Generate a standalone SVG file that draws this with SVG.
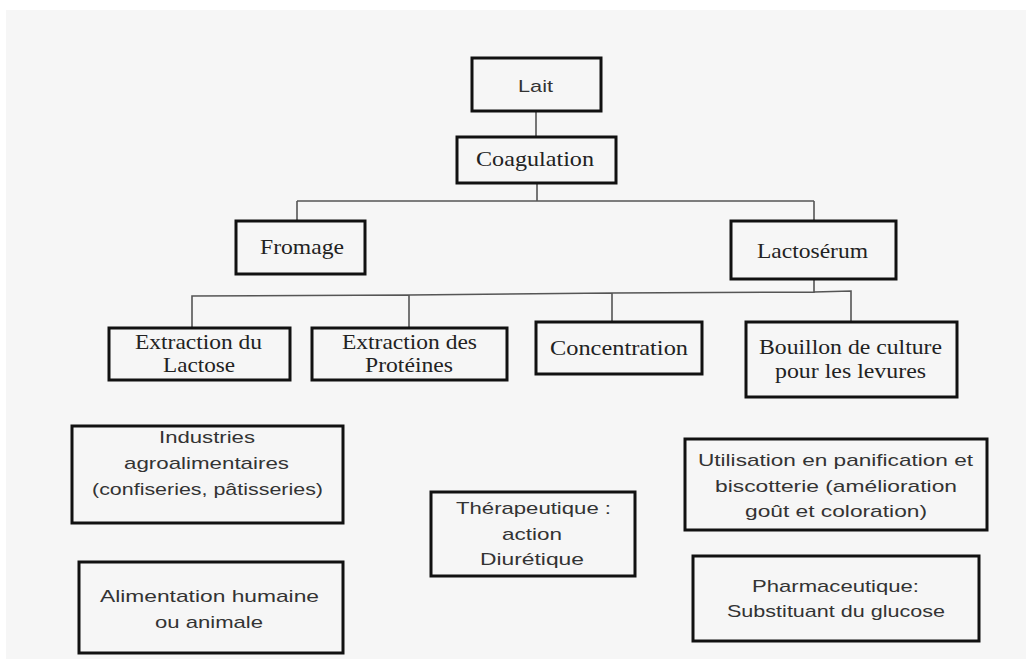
<svg xmlns="http://www.w3.org/2000/svg" width="1026" height="659" viewBox="0 0 1026 659">
<style>
.box{fill:none;stroke:#111;stroke-width:3}
.con{fill:none;stroke:#555;stroke-width:1.6}
.serif{font-family:"Liberation Serif","Times New Roman",serif;font-size:21px;fill:#222;text-anchor:start}
.sans{font-family:"Liberation Sans",Arial,sans-serif;font-size:17px;fill:#333;text-anchor:start}
</style>
<rect x="0" y="0" width="1026" height="659" fill="#ffffff"/>
<rect x="6" y="10" width="1020" height="649" fill="#f6f6f6"/>
<g id="connectors">
<path class="con" d="M536 111V137M537 183V201M297 201H814M297 201V221M814 201V221"/>
<path class="con" d="M814 279V293M192 328V296L409 295L612 293L814 292L851 291V322M409 295V328M612 293V322"/>
</g>
<g id="lait"><rect class="box" x="472" y="58" width="129" height="53"/><text class="sans" x="518" y="92" font-size="19" textLength="35" lengthAdjust="spacingAndGlyphs">Lait</text></g>
<g id="coagulation"><rect class="box" x="457" y="137" width="159" height="46"/><text class="serif" x="476" y="166" textLength="118" lengthAdjust="spacingAndGlyphs">Coagulation</text></g>
<g id="fromage"><rect class="box" x="236" y="221" width="129" height="53"/><text class="serif" x="260" y="254" textLength="84" lengthAdjust="spacingAndGlyphs">Fromage</text></g>
<g id="lactoserum"><rect class="box" x="731" y="221" width="165" height="58"/><text class="serif" x="757" y="258" textLength="111" lengthAdjust="spacingAndGlyphs">Lactosérum</text></g>
<g id="extraction-lactose"><rect class="box" x="109" y="328" width="181" height="52"/><text class="serif" x="135" y="349" textLength="127" lengthAdjust="spacingAndGlyphs">Extraction du</text><text class="serif" x="163" y="372" textLength="72" lengthAdjust="spacingAndGlyphs">Lactose</text></g>
<g id="extraction-proteines"><rect class="box" x="312" y="328" width="195" height="52"/><text class="serif" x="342" y="349" textLength="135" lengthAdjust="spacingAndGlyphs">Extraction des</text><text class="serif" x="365" y="372" textLength="88" lengthAdjust="spacingAndGlyphs">Protéines</text></g>
<g id="concentration"><rect class="box" x="536" y="322" width="166" height="52"/><text class="serif" x="550" y="355" textLength="138" lengthAdjust="spacingAndGlyphs">Concentration</text></g>
<g id="bouillon"><rect class="box" x="746" y="322" width="211" height="75"/><text class="serif" x="759" y="354" textLength="183" lengthAdjust="spacingAndGlyphs">Bouillon de culture</text><text class="serif" x="775" y="378" textLength="151" lengthAdjust="spacingAndGlyphs">pour les levures</text></g>
<g id="industries"><rect class="box" x="72" y="426" width="271" height="97"/><text class="sans" x="159" y="443" textLength="96" lengthAdjust="spacingAndGlyphs">Industries</text><text class="sans" x="124" y="469" textLength="165" lengthAdjust="spacingAndGlyphs">agroalimentaires</text><text class="sans" x="92" y="495" textLength="231" lengthAdjust="spacingAndGlyphs">(confiseries, pâtisseries)</text></g>
<g id="alimentation"><rect class="box" x="79" y="562" width="264" height="91"/><text class="sans" x="100" y="602" textLength="219" lengthAdjust="spacingAndGlyphs">Alimentation humaine</text><text class="sans" x="155" y="628" textLength="108" lengthAdjust="spacingAndGlyphs">ou animale</text></g>
<g id="therapeutique"><rect class="box" x="431" y="492" width="204" height="84"/><text class="sans" x="456" y="514" textLength="155" lengthAdjust="spacingAndGlyphs">Thérapeutique :</text><text class="sans" x="502" y="540" textLength="60" lengthAdjust="spacingAndGlyphs">action</text><text class="sans" x="480" y="565" textLength="104" lengthAdjust="spacingAndGlyphs">Diurétique</text></g>
<g id="utilisation"><rect class="box" x="685" y="439" width="302" height="91"/><text class="sans" x="698" y="466" textLength="275" lengthAdjust="spacingAndGlyphs">Utilisation en panification et</text><text class="sans" x="715" y="492" textLength="242" lengthAdjust="spacingAndGlyphs">biscotterie (amélioration</text><text class="sans" x="745" y="517" textLength="182" lengthAdjust="spacingAndGlyphs">goût et coloration)</text></g>
<g id="pharmaceutique"><rect class="box" x="693" y="556" width="286" height="85"/><text class="sans" x="752" y="592" textLength="167" lengthAdjust="spacingAndGlyphs">Pharmaceutique:</text><text class="sans" x="727" y="617" textLength="218" lengthAdjust="spacingAndGlyphs">Substituant du glucose</text></g>
</svg>
